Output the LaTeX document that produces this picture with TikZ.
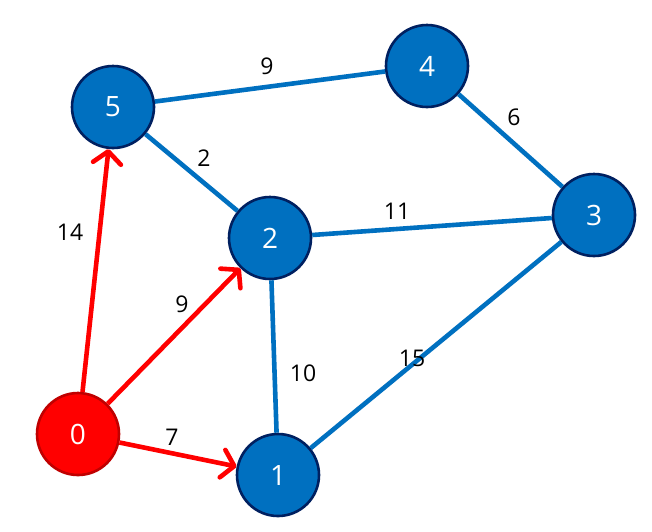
\documentclass[tikz,border=0pt]{standalone}
\usepackage{fontspec}
\setmainfont{Open Sans}
\usetikzlibrary{arrows.meta}
\definecolor{nblue}{HTML}{0070C0}
\definecolor{nnavy}{HTML}{002060}
\definecolor{nred}{HTML}{FF0000}
\definecolor{ndred}{HTML}{C00000}
\tikzset{
  vtx/.style={circle, minimum size=82pt, inner sep=0pt, line width=2.6pt, draw=nnavy, fill=nblue, text=white, font=\fontsize{28}{30}\selectfont},
  vtxred/.style={vtx, draw=ndred, fill=nred},
  bedge/.style={draw=nblue, line width=4.6pt},
  redge/.style={draw=nred, line width=4.6pt, -{Straight Barb[length=12pt, width=28pt, line width=4.6pt, round]}},
  wlab/.style={font=\fontsize{23}{26}\selectfont, text=black, inner sep=0pt}
}
\begin{document}
\begin{tikzpicture}[x=1pt, y=-1pt]
\useasboundingbox[fill=white] (0,0) rectangle (652,531);
\node[vtx] (n5) at (113,107) {5};
\node[vtx] (n4) at (427,66) {4};
\node[vtx] (n3) at (594,215) {3};
\node[vtx] (n2) at (270,238) {2};
\node[vtxred] (n0) at (78,434) {0};
\node[vtx] (n1) at (278,475) {1};
\path[bedge] (n5) -- (n4);
\path[bedge] (n5) -- (n2);
\path[bedge] (n4) -- (n3);
\path[bedge] (n2) -- (n3);
\path[bedge] (n2) -- (n1);
\path[bedge] (n1) -- (n3);
\path[redge] (n0) -- (n5);
\path[redge] (n0) -- (n2);
\path[redge] (n0) -- (n1);
\node[wlab] (l9a) at (267,66) {9};
\node[wlab] (l2) at (204,158) {2};
\node[wlab] (l6) at (514,117) {6};
\node[wlab] (l11) at (397,211) {11};
\node[wlab] (l14) at (70,232) {14};
\node[wlab] (l9b) at (182,304) {9};
\node[wlab] (l10) at (303,373) {10};
\node[wlab] (l15) at (412,358) {15};
\node[wlab] (l7) at (172,437) {7};
\end{tikzpicture}
\end{document}
